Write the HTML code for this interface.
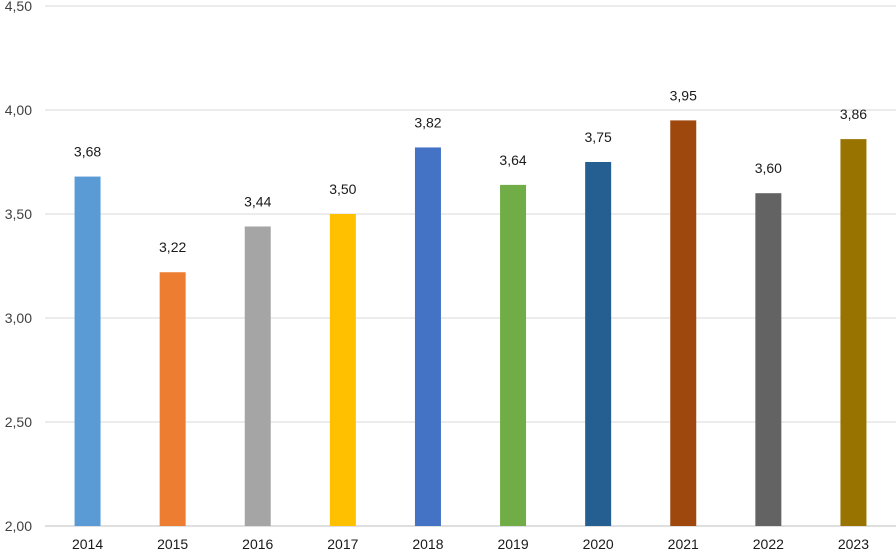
<!DOCTYPE html>
<html><head><meta charset="utf-8"><style>
html,body{margin:0;padding:0;background:#fff;}
svg{display:block;font-family:"Liberation Sans",Arial,sans-serif;}
</style></head><body>
<svg id="chart" width="896" height="552" viewBox="0 0 896 552"></svg>
<script>
const categories=["2014","2015","2016","2017","2018","2019","2020","2021","2022","2023"];
const values=[3.68,3.22,3.44,3.50,3.82,3.64,3.75,3.95,3.60,3.86];
const valueLabels=["3,68","3,22","3,44","3,50","3,82","3,64","3,75","3,95","3,60","3,86"];
const colors=["#5b9bd5","#ed7d31","#a5a5a5","#ffc000","#4472c4","#70ad47","#255e91","#9e480e","#636363","#997300"];
const yTicks=[2.0,2.5,3.0,3.5,4.0,4.5];
const yTickLabels=["2,00","2,50","3,00","3,50","4,00","4,50"];

const svgEl=document.getElementById('chart');
const NS='http://www.w3.org/2000/svg';
const padL=45,padR=896,padT=6,padB=526,yMin=2,yMax=4.5;
const yScale=v=>padB-(v-yMin)/(yMax-yMin)*(padB-padT);
const slot=(padR-padL)/categories.length;
const xScale=i=>padL+slot*(i+0.5);
const barW=26;
function mk(tag,attrs,text){const e=document.createElementNS(NS,tag);for(const k in attrs)e.setAttribute(k,attrs[k]);if(text!==undefined)e.textContent=text;svgEl.appendChild(e);return e;}

yTicks.forEach((t,i)=>{
  const g=mk('line',{x1:padL,x2:padR,y1:yScale(t),y2:yScale(t),stroke:t===yMin?'#bfbfbf':'#d9d9d9','stroke-width':1});
  
  
  const l=mk('text',{x:32,y:yScale(t)+5,'text-anchor':'end','font-size':14,fill:'#404040'},yTickLabels[i]);
  
  
});

categories.forEach((c,i)=>{
  const v=values[i];
  const b=mk('rect',{x:xScale(i)-barW/2,y:yScale(v),width:barW,height:padB-yScale(v),fill:colors[i]});
  
  
  const vl=mk('text',{x:xScale(i),y:yScale(v)-20,'text-anchor':'middle','font-size':14,fill:'#1a1a1a'},valueLabels[i]);
  
  
  const xl=mk('text',{x:xScale(i),y:549,'text-anchor':'middle','font-size':14,fill:'#1a1a1a'},c);
  
  
});
</script>
</body></html>
